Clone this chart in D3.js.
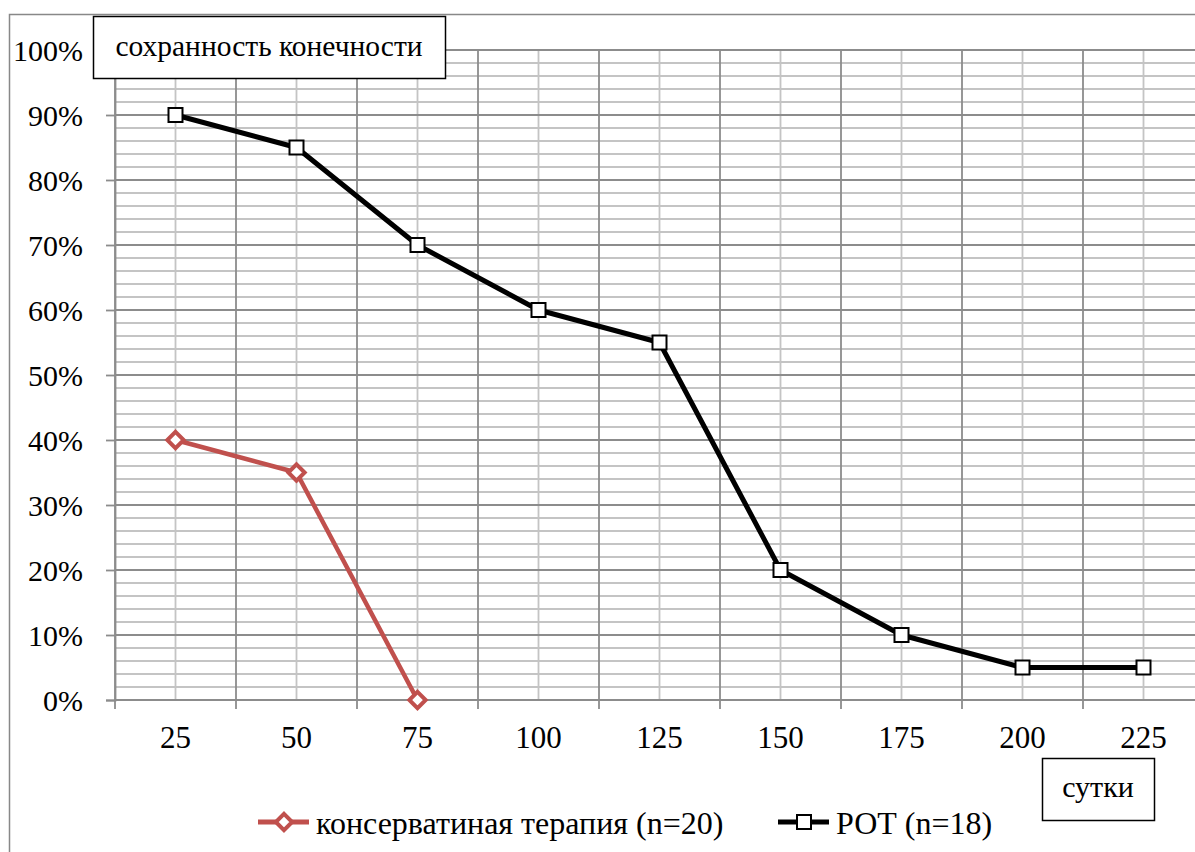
<!DOCTYPE html>
<html lang="ru">
<head>
<meta charset="utf-8">
<title>сохранность конечности</title>
<script src="https://d3js.org/d3.v7.min.js"></script>
<style>
  body { margin: 0; background: #fff; }
  svg text { font-family: "Liberation Serif", "DejaVu Serif", serif; fill: #000; }
</style>
</head>
<body>
<script>
// data
var days = ["25", "50", "75", "100", "125", "150", "175", "200", "225"];
var conservative = [40, 35, 0];
var rot = [90, 85, 70, 60, 55, 20, 10, 5, 5];
var yTicks = [0, 10, 20, 30, 40, 50, 60, 70, 80, 90, 100];
var consName = "консерватиная терапия (n=20)";
var rotName = "РОТ (n=18)";

var W = 1195, H = 852;
var plotLeft = 115, plotTop = 50, plotW = 121 * 9, plotBottom = 700;
var red = "#c0504d";

var svg = d3.select("body").append("svg")
    .attr("width", W).attr("height", H);

// outer chart border (goes off the picture on the right and bottom)
svg.append("rect")
    .attr("x", 9.5).attr("y", 14.5)
    .attr("width", 1300).attr("height", 900)
    .attr("fill", "#fff").attr("stroke", "#888").attr("stroke-width", 1.5);

var x = d3.scaleBand().domain(days).range([plotLeft, plotLeft + plotW]);
var y = d3.scaleLinear().domain([0, 100]).range([plotBottom, plotTop]);

var g = svg.append("g");

// minor horizontal grid every 2%
g.selectAll(".hminor").data(d3.range(0, 101, 2).filter(function (d) { return d % 10 != 0; }))
  .enter().append("line")
    .attr("x1", plotLeft).attr("x2", plotLeft + plotW)
    .attr("y1", function (d) { return y(d); }).attr("y2", function (d) { return y(d); })
    .attr("stroke", "#c4c4c4").attr("stroke-width", 1.8);

// minor vertical grid at category centers
g.selectAll(".vminor").data(days).enter().append("line")
    .attr("x1", function (d) { return x(d) + x.bandwidth() / 2; })
    .attr("x2", function (d) { return x(d) + x.bandwidth() / 2; })
    .attr("y1", plotTop).attr("y2", plotBottom)
    .attr("stroke", "#c4c4c4").attr("stroke-width", 1.8);

// major horizontal grid
g.selectAll(".hmajor").data(yTicks).enter().append("line")
    .attr("x1", plotLeft).attr("x2", plotLeft + plotW)
    .attr("y1", function (d) { return y(d); }).attr("y2", function (d) { return y(d); })
    .attr("stroke", "#8c8c8c").attr("stroke-width", 1.8);

// major vertical grid at category boundaries
g.selectAll(".vmajor").data(days).enter().append("line")
    .attr("x1", function (d) { return x(d); })
    .attr("x2", function (d) { return x(d); })
    .attr("y1", plotTop).attr("y2", plotBottom + 9)
    .attr("stroke", "#8c8c8c").attr("stroke-width", 1.8);

// y axis
var yAxis = svg.append("g")
    .attr("transform", "translate(" + plotLeft + ",0)")
    .call(d3.axisLeft(y).tickValues(yTicks).tickSize(9).tickPadding(23)
        .tickFormat(function (d) { return d + "%"; }));
yAxis.attr("font-family", null);
yAxis.select(".domain").attr("stroke", "#8c8c8c").attr("stroke-width", 1.8);
yAxis.selectAll(".tick line").attr("stroke", "#8c8c8c").attr("stroke-width", 1.8);
yAxis.selectAll("text").attr("font-size", "30px").attr("dy", "0.35em");

// x axis labels
var xAxis = svg.append("g")
    .attr("transform", "translate(0," + plotBottom + ")")
    .call(d3.axisBottom(x).tickSize(0).tickPadding(26));
xAxis.attr("font-family", null);
xAxis.select(".domain").remove();
xAxis.selectAll("text").attr("font-size", "31px").attr("dy", "0.71em");

// lines
function cx(i) { return x(days[i]) + x.bandwidth() / 2; }
var line = d3.line().x(function (d, i) { return cx(i); }).y(function (d) { return y(d); });

svg.append("path").datum(conservative)
    .attr("d", line).attr("fill", "none")
    .attr("stroke", red).attr("stroke-width", 4.5).attr("stroke-linejoin", "round");

svg.append("path").datum(rot)
    .attr("d", line).attr("fill", "none")
    .attr("stroke", "#000").attr("stroke-width", 5).attr("stroke-linejoin", "round");

// markers
var diamond = d3.symbol().type(d3.symbolDiamond2).size(170);
svg.selectAll(".cons").data(conservative).enter().append("path")
    .attr("d", diamond)
    .attr("transform", function (d, i) { return "translate(" + cx(i) + "," + y(d) + ")"; })
    .attr("fill", "#fff").attr("stroke", red).attr("stroke-width", 4);

svg.selectAll(".rotm").data(rot).enter().append("rect")
    .attr("x", function (d, i) { return cx(i) - 7; })
    .attr("y", function (d) { return y(d) - 7; })
    .attr("width", 14).attr("height", 14)
    .attr("fill", "#fff").attr("stroke", "#000").attr("stroke-width", 2);

// y axis title box
svg.append("rect")
    .attr("x", 93.5).attr("y", 16.5).attr("width", 352).attr("height", 62)
    .attr("fill", "#fff").attr("stroke", "#000").attr("stroke-width", 1.5);
svg.append("text")
    .attr("x", 269).attr("y", 56).attr("text-anchor", "middle")
    .attr("font-size", "29.5px").text("сохранность конечности");

// x axis title box
svg.append("rect")
    .attr("x", 1042.5).attr("y", 758.5).attr("width", 112).attr("height", 62)
    .attr("fill", "#fff").attr("stroke", "#000").attr("stroke-width", 1.5);
svg.append("text")
    .attr("x", 1098).attr("y", 797).attr("text-anchor", "middle")
    .attr("font-size", "30px").text("сутки");

// legend
var leg = [
  { name: consName, x: 258, color: red, kind: "diamond" },
  { name: rotName, x: 778, color: "#000", kind: "square" }
];
leg.forEach(function (l) {
  var ly = 822;
  svg.append("line").attr("x1", l.x).attr("x2", l.x + 51)
      .attr("y1", ly).attr("y2", ly)
      .attr("stroke", l.color).attr("stroke-width", 5);
  if (l.kind == "diamond") {
    svg.append("path").attr("d", diamond)
        .attr("transform", "translate(" + (l.x + 26) + "," + ly + ")")
        .attr("fill", "#fff").attr("stroke", l.color).attr("stroke-width", 4);
  } else {
    svg.append("rect").attr("x", l.x + 19).attr("y", ly - 7)
        .attr("width", 14).attr("height", 14)
        .attr("fill", "#fff").attr("stroke", l.color).attr("stroke-width", 2);
  }
  svg.append("text").attr("x", l.x + 58).attr("y", 834)
      .attr("font-size", "32px").text(l.name);
});
</script>
</body>
</html>
